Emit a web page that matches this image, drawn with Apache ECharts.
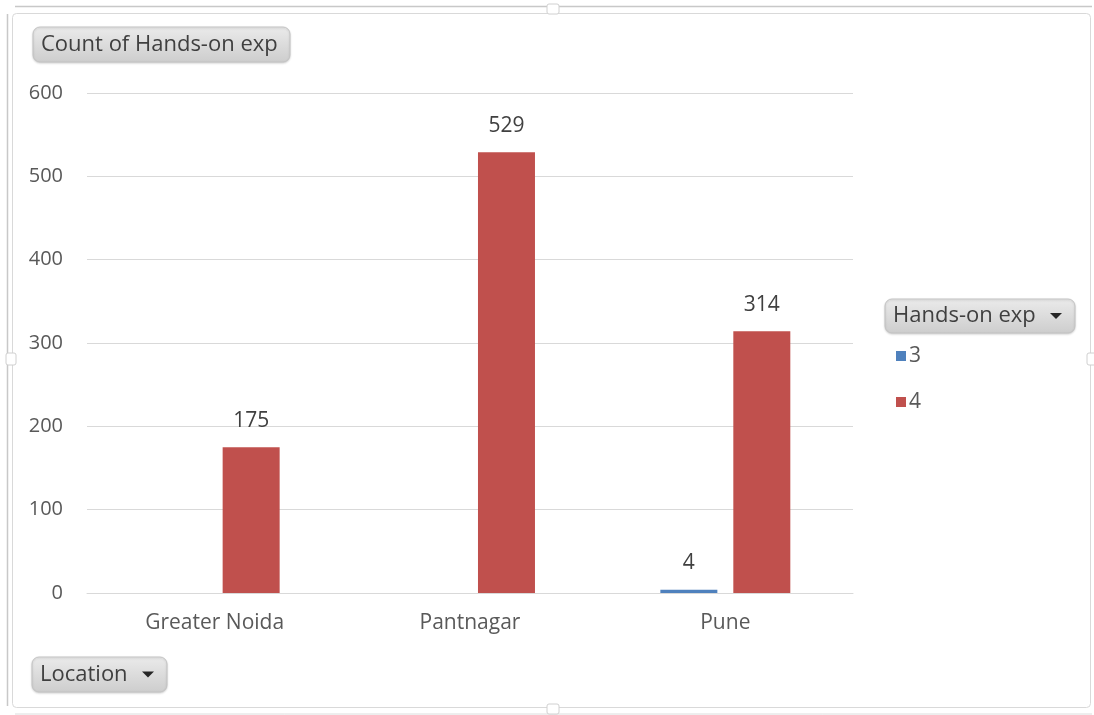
<!DOCTYPE html>
<html>
<head>
<meta charset="utf-8">
<title>Count of Hands-on exp by Location</title>
<script src="https://cdn.jsdelivr.net/npm/echarts@6/dist/echarts.min.js"></script>
<style>
  html, body { margin: 0; padding: 0; background: #ffffff; }
  #chart { width: 1094px; height: 715px; }
</style>
</head>
<body>
<div id="chart"></div>
<script>
// Pivot chart: count of hands-on experience rating per location
const locations = ['Greater Noida', 'Pantnagar', 'Pune'];
const seriesNames = ['3', '4'];
const rating3 = [null, null, 4];
const rating4 = [175, 529, 314];
const yTicks = { min: 0, max: 600, interval: 100 };

const FONT = '"Open Sans", "Noto Sans", sans-serif';
const TEXT = '#595959';

const chart = echarts.init(document.getElementById('chart'), null, { renderer: 'canvas' });

// Grey pivot field button with optional drop-down arrow
function fieldButton(x, y, w, h, label, arrow) {
  const children = [
    {
      type: 'rect',
      shape: { x: x, y: y, width: w, height: h, r: 7 },
      style: {
        fill: new echarts.graphic.LinearGradient(0, 0, 0, 1, [
          { offset: 0, color: '#ebebeb' },
          { offset: 1, color: '#cdcdcd' }
        ]),
        stroke: '#c4c4c4',
        lineWidth: 1,
        shadowBlur: 2,
        shadowColor: 'rgba(0,0,0,0.15)',
        shadowOffsetY: 1
      }
    },
    {
      type: 'text',
      x: x + 8,
      y: y + h / 2,
      style: {
        text: label,
        fill: '#3f3f3f',
        font: '22px ' + FONT,
        verticalAlign: 'middle'
      }
    }
  ];
  if (arrow) {
    const ax = x + w - 25, ay = y + h / 2 - 3;
    children.push({
      type: 'polygon',
      shape: { points: [[ax, ay], [ax + 12, ay], [ax + 6, ay + 6]] },
      style: { fill: '#262626' }
    });
  }
  return { type: 'group', children: children };
}

// Chart area outline with the small resize handles
const frame = {
  type: 'group',
  silent: true,
  children: [
    { type: 'line', shape: { x1: 15, y1: 6.5, x2: 1092, y2: 6.5 }, style: { stroke: '#c8c8c8', lineWidth: 1.5 } },
    { type: 'line', shape: { x1: 7.5, y1: 14, x2: 7.5, y2: 706 }, style: { stroke: '#c8c8c8', lineWidth: 1.5 } },
    { type: 'line', shape: { x1: 15, y1: 714, x2: 1092, y2: 714 }, style: { stroke: '#dcdcdc', lineWidth: 1 } },
    { type: 'rect', shape: { x: 12.5, y: 13.5, width: 1078, height: 694, r: 4 }, style: { fill: 'none', stroke: '#d9d9d9', lineWidth: 1 } },
    { type: 'rect', shape: { x: 547, y: 4, width: 12, height: 10, r: 2 }, style: { fill: '#ffffff', stroke: '#d0d0d0', lineWidth: 1 } },
    { type: 'rect', shape: { x: 547, y: 704, width: 12, height: 10, r: 2 }, style: { fill: '#ffffff', stroke: '#d0d0d0', lineWidth: 1 } },
    { type: 'rect', shape: { x: 6, y: 353, width: 10, height: 12, r: 2 }, style: { fill: '#ffffff', stroke: '#d0d0d0', lineWidth: 1 } },
    { type: 'rect', shape: { x: 1087, y: 353, width: 10, height: 12, r: 2 }, style: { fill: '#ffffff', stroke: '#d0d0d0', lineWidth: 1 } }
  ]
};

const option = {
  backgroundColor: '#ffffff',
  animation: false,
  textStyle: { fontFamily: FONT },
  grid: { left: 87, right: 241, top: 93, bottom: 122, containLabel: false },
  legend: {
    data: seriesNames,
    orient: 'vertical',
    left: 891,
    top: 339,
    icon: 'rect',
    itemWidth: 10,
    itemHeight: 10,
    itemGap: 22,
    textStyle: { color: TEXT, fontSize: 21, fontFamily: FONT, lineHeight: 24, padding: [0, 0, 0, -2] },
    selectedMode: false
  },
  xAxis: {
    type: 'category',
    data: locations,
    axisLine: { lineStyle: { color: '#d9d9d9', width: 1 } },
    axisTick: { show: false },
    axisLabel: { color: TEXT, fontSize: 21, fontFamily: FONT, margin: 20 }
  },
  yAxis: {
    type: 'value',
    min: yTicks.min,
    max: yTicks.max,
    interval: yTicks.interval,
    axisLine: { show: false },
    axisTick: { show: false },
    axisLabel: { color: TEXT, fontSize: 20, fontFamily: FONT, margin: 24 },
    splitLine: { lineStyle: { color: '#d9d9d9', width: 1 } }
  },
  series: [
    {
      name: seriesNames[0],
      type: 'bar',
      data: rating3,
      barWidth: 57,
      barGap: '28%',
      itemStyle: { color: '#4F81BD' },
      label: { show: true, position: 'top', distance: 16, color: '#404040', fontSize: 21, fontFamily: FONT }
    },
    {
      name: seriesNames[1],
      type: 'bar',
      data: rating4,
      barWidth: 57,
      barGap: '28%',
      itemStyle: { color: '#C0504D' },
      label: { show: true, position: 'top', distance: 16, color: '#404040', fontSize: 21, fontFamily: FONT }
    }
  ],
  graphic: [
    frame,
    fieldButton(33, 27, 257, 35, 'Count of Hands-on exp', false),
    fieldButton(885, 299, 190, 34, 'Hands-on exp', true),
    fieldButton(32, 657, 135, 35, 'Location', true)
  ]
};

chart.setOption(option);
</script>
</body>
</html>
